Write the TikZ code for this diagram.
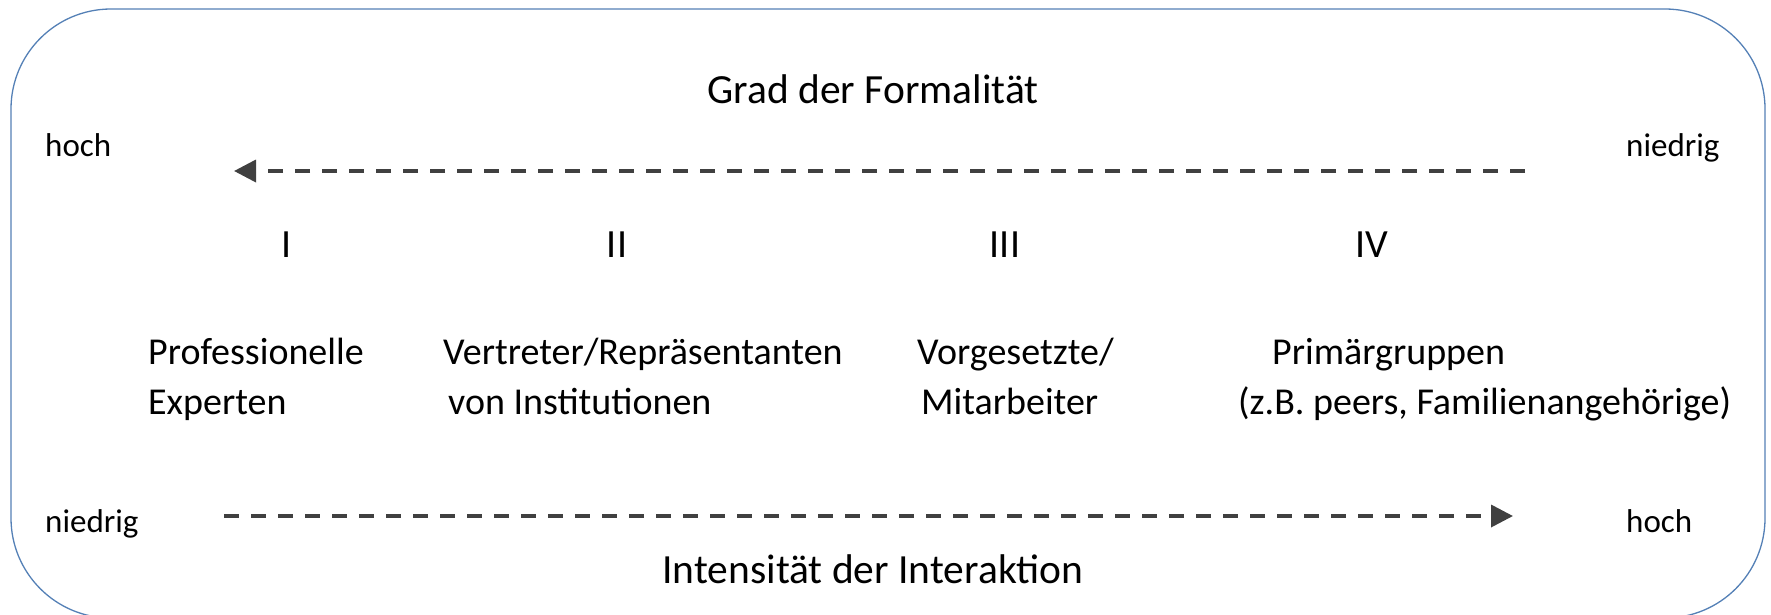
\documentclass[tikz,border=0pt]{standalone}
\usepackage{fontspec}
\setmainfont{Carlito}
\usepackage{xcolor}
\usepackage{tikz}
\usetikzlibrary{arrows.meta, positioning}

\definecolor{frameblue}{RGB}{84,128,182}
\definecolor{axisgray}{RGB}{64,64,64}

\begin{document}
\begin{tikzpicture}[
    x=1pt, y=-1pt,
    frame/.style={draw=frameblue, line width=1.3pt, rounded corners=100pt},
    axis/.style={axisgray, line width=3.6pt, dash pattern=on 15pt off 12pt, -{Triangle[length=22pt, width=22pt]}},
    heading/.style={anchor=base, inner sep=0pt, font=\fontsize{41.5}{50}\selectfont},
    level/.style={anchor=base west, inner sep=0pt, font=\fontsize{33}{40}\selectfont},
    numeral/.style={anchor=base, inner sep=0pt, font=\fontsize{40}{48}\selectfont},
    group/.style={anchor=base west, inner sep=0pt, align=left, font=\fontsize{38}{50}\selectfont},
]

% Canvas
\useasboundingbox (0,0) rectangle (1771,614);
\begin{scope}
  \clip (0,0) rectangle (1771,614);
  \draw[frame] (11,9) rectangle (1765,618);
\end{scope}

% Formality axis
\node[heading] (formal) at (873,103) {Grad der Formalität};
\node[level] (formhigh) at (45,156) {hoch};
\node[level] (formlow) at (1626,156) {niedrig};
\coordinate (fstart) at (1525,171);
\coordinate (fend) at (234,171);
\draw[axis] (fstart) -- (fend);

% Types
\foreach \x/\r/\n in {287/I/t1, 617/II/t2, 1005/III/t3, 1372/IV/t4} {
    \node[numeral] (\n) at (\x,257) {\r};
}

% Groups (base = last line)
\node[group] (g1) at (148,414) {Professionelle\\Experten};
\node[group] (g2) at (443,414) {Vertreter/Repräsentanten\\\hspace*{5pt}von Institutionen};
\node[group] (g3) at (917,414) {Vorgesetzte/\\\hspace*{4pt}Mitarbeiter};
\node[group] (g4) at (1238,414) {\hspace*{34pt}Primärgruppen\\(z.B. peers, Familienangehörige)};

% Interaction axis
\node[level] (intlow) at (45,532) {niedrig};
\node[level] (inthigh) at (1626,532) {hoch};
\coordinate (istart) at (224,516);
\coordinate (iend) at (1513,516);
\draw[axis] (istart) -- (iend);
\node[heading] (inter) at (873,583) {Intensität der Interaktion};

\end{tikzpicture}
\end{document}
